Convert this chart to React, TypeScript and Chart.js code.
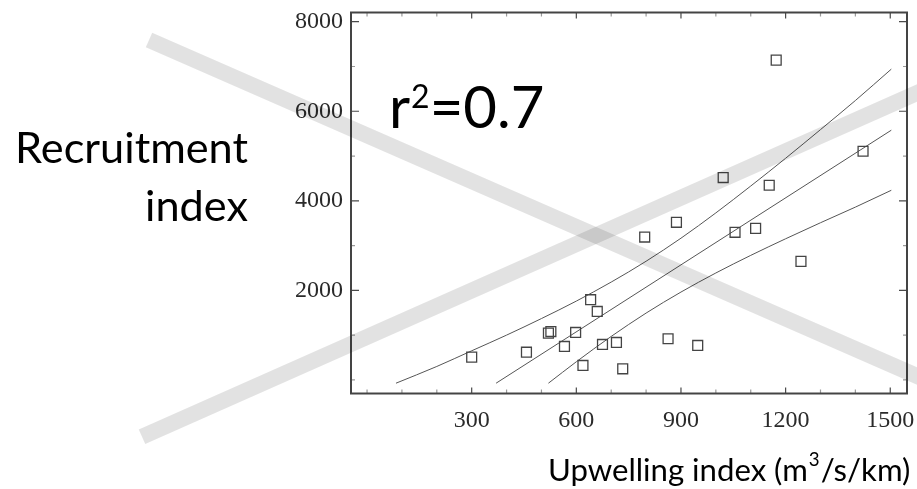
import React, { useEffect, useRef } from "react";
import { Chart, registerables } from "chart.js";

Chart.register(...registerables);

// Observed points (upwelling index, recruitment index)
const upwelling = [300, 457, 520, 527, 566, 598, 619, 641, 660, 675, 715, 733, 796, 863, 887, 948, 1021, 1055, 1114, 1153, 1173, 1244, 1422];
const recruitment = [508, 619, 1044, 1080, 747, 1060, 322, 1791, 1529, 792, 836, 248, 3191, 919, 3520, 769, 4519, 3296, 3385, 4347, 7142, 2647, 5107];

// Regression line
const fitX = [370, 1503];
const fitY = [-74, 5577];

// Upper confidence band
const upperX = [83, 200, 300, 400, 500, 600, 700, 800, 900, 1000, 1100, 1200, 1300, 1400, 1503];
const upperY = [-74, 300, 650, 1000, 1370, 1760, 2185, 2650, 3165, 3730, 4330, 4950, 5590, 6240, 6941];

// Lower confidence band
const lowerX = [520, 600, 700, 800, 900, 1000, 1100, 1200, 1300, 1400, 1503];
const lowerY = [-74, 405, 971, 1492, 1962, 2388, 2781, 3152, 3510, 3859, 4235];

// Tick labels
const xTicks = [300, 600, 900, 1200, 1500];
const yTicks = [2000, 4000, 6000, 8000];
const xMinor = [0, 100, 200, 400, 500, 700, 800, 1000, 1100, 1300, 1400];
const yMinor = [0, 1000, 3000, 5000, 7000];

const yTitle = ["Recruitment", "index"];
const xTitleParts = ["Upwelling index (m", "3", "/s/km)"];
const rText = ["r", "2", "=0.7"];

const W = 917;
const H = 489;
const FONT = "Lato";

const framePlugin = {
  id: "frameTicks",
  afterDatasetsDraw(chart: any) {
    const { ctx, chartArea: a, scales } = chart;
    const xs = scales.x;
    const ys = scales.y;
    ctx.save();
    ctx.strokeStyle = "#4a4a4a";
    ctx.lineWidth = 1.2;
    const tick = (vals: number[], len: number) => {
      vals.forEach((v) => {
        const px = xs.getPixelForValue(v);
        ctx.beginPath();
        ctx.moveTo(px, a.bottom);
        ctx.lineTo(px, a.bottom - len);
        ctx.moveTo(px, a.top);
        ctx.lineTo(px, a.top + len);
        ctx.stroke();
      });
    };
    const tickY = (vals: number[], len: number) => {
      vals.forEach((v) => {
        const py = ys.getPixelForValue(v);
        ctx.beginPath();
        ctx.moveTo(a.left, py);
        ctx.lineTo(a.left + len, py);
        ctx.moveTo(a.right, py);
        ctx.lineTo(a.right - len, py);
        ctx.stroke();
      });
    };
    tick(xTicks, 6);
    tickY(yTicks, 8);
    ctx.strokeStyle = "#9a9a9a";
    tick(xMinor, 4);
    tickY(yMinor, 4);
    ctx.strokeStyle = "#444";
    ctx.lineWidth = 2;
    ctx.strokeRect(a.left, a.top, a.right - a.left, a.bottom - a.top);
    ctx.restore();
  },
  afterDraw(chart: any) {
    const ctx = chart.ctx;
    ctx.save();
    ctx.fillStyle = "#000";
    ctx.textBaseline = "alphabetic";

    // y title, sized to its width in the reference
    ctx.font = `40px ${FONT}`;
    const ySize = (40 * 233) / ctx.measureText(yTitle[0]).width;
    ctx.font = `${ySize}px ${FONT}`;
    ctx.textAlign = "right";
    ctx.fillText(yTitle[0], 248, 163);
    ctx.fillText(yTitle[1], 248, 221);

    // x title with superscript
    ctx.textAlign = "left";
    ctx.font = `40px ${FONT}`;
    const w0 = ctx.measureText(xTitleParts[0]).width + ctx.measureText(xTitleParts[2]).width;
    ctx.font = `24px ${FONT}`;
    const w1 = ctx.measureText(xTitleParts[1]).width;
    const xSize = (40 * 362) / (w0 + w1 + 2);
    const supSize = xSize * 0.6;
    let x = 548;
    ctx.font = `${xSize}px ${FONT}`;
    ctx.fillText(xTitleParts[0], x, 481);
    x += ctx.measureText(xTitleParts[0]).width + 1;
    ctx.font = `${supSize}px ${FONT}`;
    ctx.fillText(xTitleParts[1], x, 466);
    x += ctx.measureText(xTitleParts[1]).width + 1;
    ctx.font = `${xSize}px ${FONT}`;
    ctx.fillText(xTitleParts[2], x, 481);

    // r^2 annotation
    let rx = 389;
    ctx.font = `58px ${FONT}`;
    ctx.fillText(rText[0], rx, 128);
    rx += ctx.measureText(rText[0]).width + 1;
    ctx.font = `32px ${FONT}`;
    ctx.fillText(rText[1], rx, 108);
    rx += ctx.measureText(rText[1]).width;
    ctx.font = `58px ${FONT}`;
    ctx.fillText(rText[2], rx, 128);

    // crossing bands
    ctx.strokeStyle = "rgba(0,0,0,0.115)";
    ctx.lineWidth = 16;
    ctx.lineCap = "butt";
    ctx.beginPath();
    ctx.moveTo(149, 40);
    ctx.lineTo(149 + 800, 40 + 0.4375 * 800);
    ctx.stroke();
    ctx.beginPath();
    ctx.moveTo(142, 436.7);
    ctx.lineTo(142 + 800, 436.7 - 0.4435 * 800);
    ctx.stroke();
    ctx.restore();
  },
};

export default function App() {
  const ref = useRef<HTMLCanvasElement | null>(null);
  useEffect(() => {
    if (!ref.current) return;
    const lineStyle = {
      type: "line" as const,
      showLine: true,
      pointRadius: 0,
      borderColor: "#555",
      borderWidth: 1,
      fill: false,
      cubicInterpolationMode: "monotone" as const,
    };
    const zeroPad = (s: any) => {
      s.paddingTop = 0;
      s.paddingBottom = 0;
      s.paddingLeft = 0;
      s.paddingRight = 0;
    };
    const chart = new Chart(ref.current, {
      type: "scatter",
      data: {
        datasets: [
          {
            label: "points",
            data: upwelling.map((v, i) => ({ x: v, y: recruitment[i] })),
            pointStyle: "rect",
            pointRadius: 7,
            borderColor: "#444",
            borderWidth: 1.3,
            backgroundColor: "rgba(255,255,255,0)",
          },
          { ...lineStyle, label: "fit", data: fitX.map((v, i) => ({ x: v, y: fitY[i] })) },
          { ...lineStyle, label: "upper", data: upperX.map((v, i) => ({ x: v, y: upperY[i] })) },
          { ...lineStyle, label: "lower", data: lowerX.map((v, i) => ({ x: v, y: lowerY[i] })) },
        ],
      },
      options: {
        animation: false,
        responsive: false,
        devicePixelRatio: 1,
        layout: { padding: { top: 12.5, right: 10, left: 0, bottom: 0 } },
        plugins: { legend: { display: false }, tooltip: { enabled: false } },
        scales: {
          x: {
            type: "linear",
            min: -46,
            max: 1548,
            grid: { display: false, drawTicks: false },
            border: { display: false },
            afterBuildTicks: (s: any) => {
              s.ticks = xTicks.map((v) => ({ value: v }));
            },
            afterFit: (s: any) => {
              s.height = 95.5;
              zeroPad(s);
            },
            ticks: {
              padding: 13,
              color: "#2a2a2a",
              font: { family: "Liberation Serif", size: 24 },
              maxRotation: 0,
              callback: (v: any) => String(v),
            },
          },
          y: {
            type: "linear",
            min: -304,
            max: 8206,
            grid: { display: false, drawTicks: false },
            border: { display: false },
            afterBuildTicks: (s: any) => {
              s.ticks = yTicks.map((v) => ({ value: v }));
            },
            afterFit: (s: any) => {
              s.width = 351;
              zeroPad(s);
            },
            ticks: {
              padding: 8,
              color: "#2a2a2a",
              font: { family: "Liberation Serif", size: 24 },
              callback: (v: any) => String(v),
            },
          },
        },
      },
      plugins: [framePlugin],
    });
    return () => chart.destroy();
  }, []);
  return (
    <div style={{ position: "absolute", left: 0, top: 0, width: W, height: H, background: "#fff" }}>
      <canvas ref={ref} width={W} height={H} style={{ display: "block" }} />
    </div>
  );
}
